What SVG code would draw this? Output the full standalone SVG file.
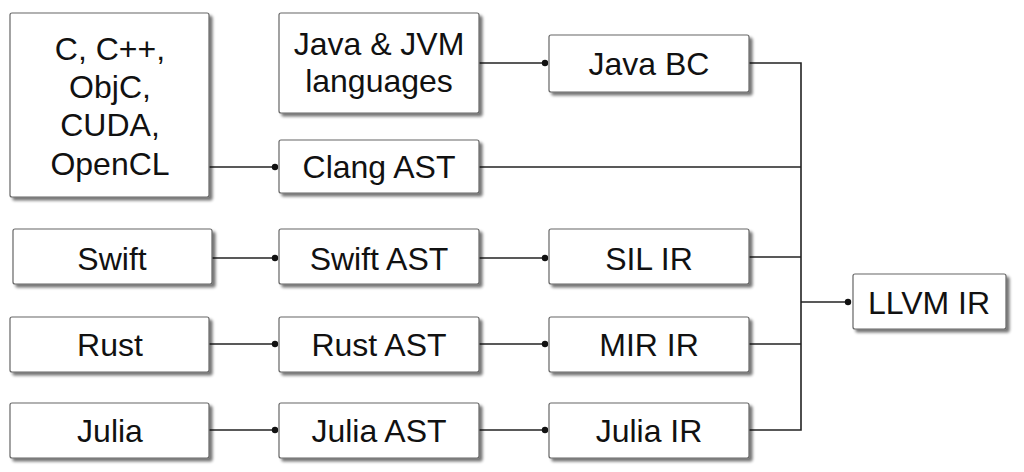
<svg xmlns="http://www.w3.org/2000/svg" width="1024" height="472" viewBox="0 0 1024 472">
<defs>
<filter id="sh" x="-10%" y="-10%" width="130%" height="140%">
<feGaussianBlur in="SourceAlpha" stdDeviation="1.5"/>
<feOffset dx="3" dy="3" result="b"/>
<feComponentTransfer><feFuncA type="linear" slope="0.55"/></feComponentTransfer>
<feMerge><feMergeNode/><feMergeNode in="SourceGraphic"/></feMerge>
</filter>
</defs>
<style>
.box{fill:#fff;stroke:#666;stroke-width:1.2;filter:url(#sh)}
.t{font-family:"Liberation Sans",Arial,sans-serif;font-size:32px;fill:#111;text-anchor:middle}
.c{fill:none;stroke:#222;stroke-width:1.6}
.d{fill:#111}
</style>
<rect width="1024" height="472" fill="#fff"/>
<g id="connectors">
<path class="c" d="M209 167H275"/>
<path class="c" d="M479 63H545"/>
<path class="c" d="M212 258H275"/>
<path class="c" d="M209 344H275"/>
<path class="c" d="M209 430H275"/>
<path class="c" d="M479 258H545"/>
<path class="c" d="M479 344H545"/>
<path class="c" d="M479 430H545"/>
<path class="c" d="M749 63H801V430H749"/>
<path class="c" d="M479 167H801"/>
<path class="c" d="M749 257H801"/>
<path class="c" d="M749 344H801"/>
<path class="c" d="M801 302H848"/>
<circle class="d" cx="275" cy="167" r="3.2"/>
<circle class="d" cx="545" cy="63" r="3.2"/>
<circle class="d" cx="275" cy="258" r="3.2"/>
<circle class="d" cx="275" cy="344" r="3.2"/>
<circle class="d" cx="275" cy="430" r="3.2"/>
<circle class="d" cx="545" cy="258" r="3.2"/>
<circle class="d" cx="545" cy="344" r="3.2"/>
<circle class="d" cx="545" cy="430" r="3.2"/>
<circle class="d" cx="848" cy="302" r="3.2"/>
</g>
<g id="n-c"><rect class="box" x="10" y="13" width="199" height="184" rx="2"/>
<text class="t" x="110" y="60">C, C++,</text>
<text class="t" x="110" y="98">ObjC,</text>
<text class="t" x="110" y="136">CUDA,</text>
<text class="t" x="110" y="175">OpenCL</text></g>
<g id="n-java"><rect class="box" x="279" y="13" width="200" height="100" rx="2"/>
<text class="t" x="379" y="55">Java &amp; JVM</text>
<text class="t" x="379" y="92">languages</text></g>
<g id="n-javabc"><rect class="box" x="549" y="35" width="200" height="57" rx="2"/><text class="t" x="649" y="75">Java BC</text></g>
<g id="n-clang"><rect class="box" x="279" y="140" width="200" height="53" rx="2"/><text class="t" x="379" y="178">Clang AST</text></g>
<g id="n-swift"><rect class="box" x="13" y="229" width="199" height="55" rx="2"/><text class="t" x="112" y="270">Swift</text></g>
<g id="n-swiftast"><rect class="box" x="279" y="229" width="200" height="55" rx="2"/><text class="t" x="379" y="270">Swift AST</text></g>
<g id="n-sil"><rect class="box" x="549" y="229" width="200" height="55" rx="2"/><text class="t" x="649" y="270">SIL IR</text></g>
<g id="n-rust"><rect class="box" x="10" y="317" width="199" height="55" rx="2"/><text class="t" x="110" y="356">Rust</text></g>
<g id="n-rustast"><rect class="box" x="279" y="317" width="200" height="55" rx="2"/><text class="t" x="379" y="356">Rust AST</text></g>
<g id="n-mir"><rect class="box" x="549" y="317" width="200" height="55" rx="2"/><text class="t" x="649" y="356">MIR IR</text></g>
<g id="n-julia"><rect class="box" x="10" y="403" width="199" height="55" rx="2"/><text class="t" x="110" y="442">Julia</text></g>
<g id="n-juliaast"><rect class="box" x="279" y="403" width="200" height="55" rx="2"/><text class="t" x="379" y="442">Julia AST</text></g>
<g id="n-juliair"><rect class="box" x="549" y="403" width="200" height="55" rx="2"/><text class="t" x="649" y="442">Julia IR</text></g>
<g id="n-llvm"><rect class="box" x="853" y="274" width="153" height="55" rx="2"/><text class="t" x="929" y="314">LLVM IR</text></g>
</svg>
